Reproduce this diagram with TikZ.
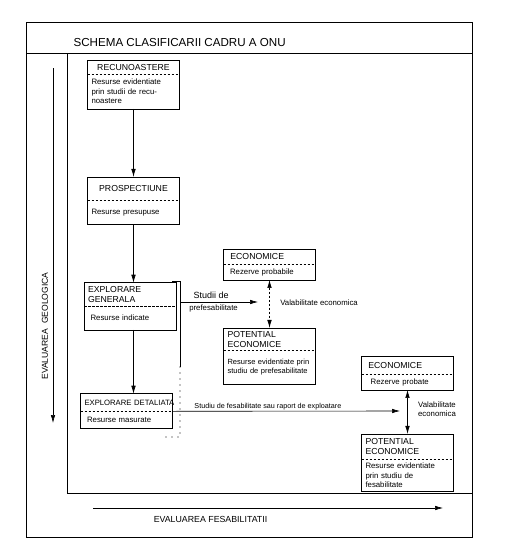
\documentclass[tikz,border=0pt]{standalone}
\usepackage{fontspec}
\setmainfont{Liberation Sans}
\usetikzlibrary{arrows.meta}
\usetikzlibrary{calc}
\usetikzlibrary{positioning}

\begin{document}
\begin{tikzpicture}[x=1pt,y=-1pt,>={Latex[length=8pt,width=4.5pt]},semithick]
	\tikzstyle{hd}=[rectangle, inner xsep=3.5pt, inner ysep=1pt, text width=84pt, align=left, font=\fontsize{8.7}{9.7}\selectfont]
	\tikzstyle{bd}=[rectangle, inner xsep=3.5pt, inner ysep=1pt, text width=84pt, align=left, font=\fontsize{7.8}{9.5}\selectfont]
	\tikzstyle{sep}=[dash pattern=on 2.5pt off 1.5pt]
	\tikzstyle{dots}=[line width=1.3pt, dash pattern=on 0pt off 6pt, line cap=round]
	\tikzstyle{lbl}=[font=\fontsize{7.8}{9}\selectfont, inner sep=1pt]
	\useasboundingbox (0,0) rectangle (514,554);

	% frame
	\draw[thick] (26,22) rectangle (472,537);
	\draw[thick] (26,53) -- (472,53);
	\draw[thick] (67,53) -- (67,493) -- (472,493);
	\node[anchor=west, font=\fontsize{11.6}{14}\selectfont] (T) at (70,43) {SCHEMA CLASIFICARII CADRU A ONU};

	% geological column
	\node[hd, minimum height=13pt, align=center] (R) at (133.5,67.5) {RECUNOASTERE};
	\node[bd, minimum height=34pt, below=0pt of R] (r) {Resurse evidentiate\\prin studii de recu-\\noastere};
	\node[hd, minimum height=23pt, align=center, below=68pt of r] (P) {PROSPECTIUNE};
	\node[bd, minimum height=23pt, below=0pt of P] (p) {Resurse presupuse\\[3pt]};
	\node[hd, minimum height=23pt] (G) at (130,294.5) {EXPLORARE\\GENERALA};
	\node[bd, minimum height=23pt, below=0pt of G] (g) {\ Resurse indicate};
	\node[hd, minimum height=17pt, font=\fontsize{7.7}{9}\selectfont] (D) at (126.5,402.5) {\mbox{EXPLORARE DETALIATA}};
	\node[bd, minimum height=16pt, below=0pt of D] (d) {\ Resurse masurate};

	% prefeasibility
	\node[hd, minimum height=14pt] (E1) at (269.5,257) {\ ECONOMICE};
	\node[bd, minimum height=15pt, below=0pt of E1] (e1) {\ Rezerve probabile};
	\node[hd, minimum height=22pt, below=48pt of e1] (Q1) {POTENTIAL\\ECONOMICE};
	\node[bd, minimum height=33pt, below=0pt of Q1, font=\fontsize{7.5}{9.5}\selectfont] (q1) {\mbox{Resurse evidentiate prin}\\studiu de prefesabilitate\\[4pt]};

	% feasibility
	\node[hd, minimum height=17pt] (E2) at (407.5,365.5) {\ ECONOMICE};
	\node[bd, minimum height=15pt, below=0pt of E2] (e2) {\ \ Rezerve probate};
	\node[hd, minimum height=25pt, below=44pt of e2] (Q2) {POTENTIAL\\ECONOMICE};
	\node[bd, minimum height=31pt, below=0pt of Q2] (q2) {Resurse evidentiate\\prin studiu de\\fesabilitate};

	\foreach \h/\b in {R/r,P/p,G/g,D/d,E1/e1,Q1/q1,E2/e2,Q2/q2}{
		\draw (\b.south west) rectangle (\b.east |- \h.north);
		\draw[sep] (\b.north west) -- (\b.north east);
	}

	\draw[->] (r) -- (P);
	\draw[->] (p.south) -- (p.south |- G.north);
	\draw[->] (p.south |- g.south) -- (p.south |- D.north);

	% bracket
	\coordinate (b1) at (172,281);
	\coordinate (b2) at (180,281);
	\coordinate (b3) at (180,367);
	\coordinate (b4) at (180,437);
	\coordinate (b5) at (166,437);
	\draw (b1) -- (b2) -- (b3);
	\draw[dots] (b3) -- (b4) -- (b5);

	\coordinate (s1) at (180,302);
	\coordinate (t1) at (258,302);
	\draw[->] (s1) -- node[pos=0.4, above, font=\fontsize{9}{10}\selectfont]{Studii de} node[pos=0.43, below, lbl, yshift=-2pt]{prefesabilitate} (t1);
	\draw[<->, sep] (e1) -- (Q1);
	\node[lbl, anchor=west] (V1) at (279,303) {Valabilitate economica};

	\coordinate (t2) at (400,411);
	\draw[->] (d.north east) -- node[pos=0.42, above, lbl, font=\fontsize{7.2}{8}\selectfont]{Studiu de fesabilitate sau raport de exploatare} (t2);
	\draw[<->] (e2) -- (Q2);
	\node[lbl, align=center] (V2) at (437,409.5) {Valabilitate\\economica};

	% axes
	\coordinate (v0) at (53,68);
	\coordinate (v1) at (53,423);
	\draw[->] (v0) -- (v1);
	\node[rotate=90, font=\fontsize{8.6}{9}\selectfont] (VG) at (45,326) {EVALUAREA\ \ GEOLOGICA};
	\coordinate (h0) at (93,508);
	\coordinate (h1) at (443,508);
	\draw[->] (h0) -- (h1);
	\node[font=\fontsize{8.8}{10}\selectfont] (HF) at (210.5,519) {EVALUAREA FESABILITATII};
\end{tikzpicture}
\end{document}
